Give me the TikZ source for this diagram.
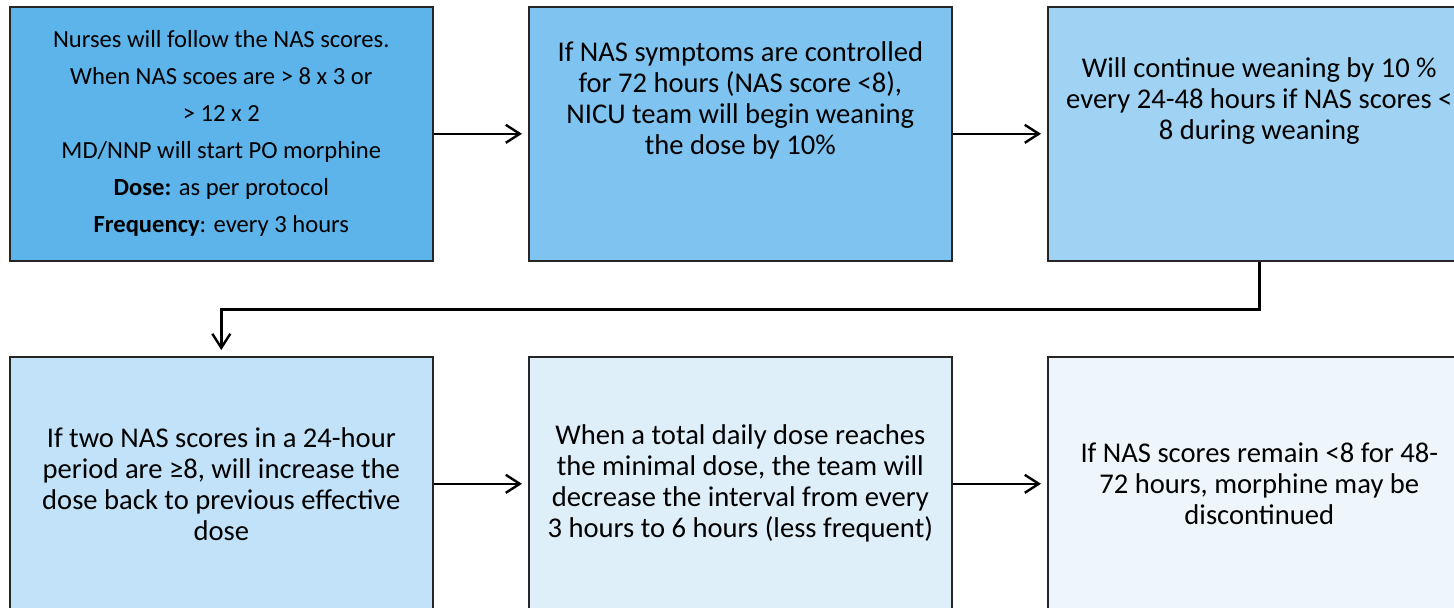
\documentclass[tikz,border=0pt]{standalone}
\usepackage{fontspec}
\setmainfont{Carlito}
\usetikzlibrary{arrows.meta}
\usetikzlibrary{positioning}
\definecolor{stepA}{RGB}{93,180,235}
\definecolor{stepB}{RGB}{127,196,240}
\definecolor{stepC}{RGB}{160,211,243}
\definecolor{stepD}{RGB}{193,226,248}
\definecolor{stepE}{RGB}{222,239,250}
\definecolor{stepF}{RGB}{238,246,252}

\begin{document}
\begin{tikzpicture}[x=0.5pt, y=-0.5pt]
\tikzstyle{boxStyle}=[shape=rectangle, draw=black!85, line width=0.8pt, minimum width=211.5pt, minimum height=127pt, inner sep=0pt, align=center, font=\fontsize{14.3}{15.5}\selectfont]
\tikzstyle{textStyle}=[align=center, inner sep=0pt, font=\fontsize{14.3}{15.5}\selectfont]
\tikzstyle{arrowStyle}=[line width=1.2pt, -{Straight Barb[length=7pt,width=9pt]}, shorten >=3pt]
\useasboundingbox (0,0) rectangle (1454,607);
\clip (0,0) rectangle (1454,607);
% top row
\node[boxStyle, fill=stepA, anchor=north west, font=\fontsize{12.3}{18.5}\selectfont] (b1) at (9,6) {Nurses will follow the NAS scores.\\ When NAS scoes are > 8 x 3 or\\ > 12 x 2\\ MD/NNP will start PO morphine\\ \textbf{Dose:} as per protocol\\ \textbf{Frequency}: every 3 hours};
\node[boxStyle, fill=stepB, right=47.2pt of b1] (b2) {};
\node[boxStyle, fill=stepC, right=47.2pt of b2] (b3) {};
\node[textStyle] (t2) at ([yshift=16.5pt]b2.center) {If NAS symptoms are controlled\\ for 72 hours (NAS score <8),\\ NICU team will begin weaning\\ the dose by 10\%};
\node[textStyle] (t3) at ([yshift=16.5pt]b3.center) {Will continue weaning by 10 \%\\ every 24-48 hours if NAS scores <\\ 8 during weaning};
% bottom row
\node[boxStyle, fill=stepD, below=47.2pt of b1] (b4) {If two NAS scores in a 24-hour\\ period are ≥8, will increase the\\ dose back to previous effective\\ dose};
\node[boxStyle, fill=stepE, right=47.2pt of b4] (b5) {When a total daily dose reaches\\ the minimal dose, the team will\\ decrease the interval from every\\ 3 hours to 6 hours (less frequent)};
\node[boxStyle, fill=stepF, right=47.2pt of b5] (b6) {If NAS scores remain <8 for 48-\\ 72 hours, morphine may be\\ discontinued};
% connectors
\draw[arrowStyle] (b1) -- (b2);
\draw[arrowStyle] (b2) -- (b3);
\draw[arrowStyle] (b3.south) -- ++(0,48) -| (b4.north);
\draw[arrowStyle] (b4) -- (b5);
\draw[arrowStyle] (b5) -- (b6);
\end{tikzpicture}
\end{document}
